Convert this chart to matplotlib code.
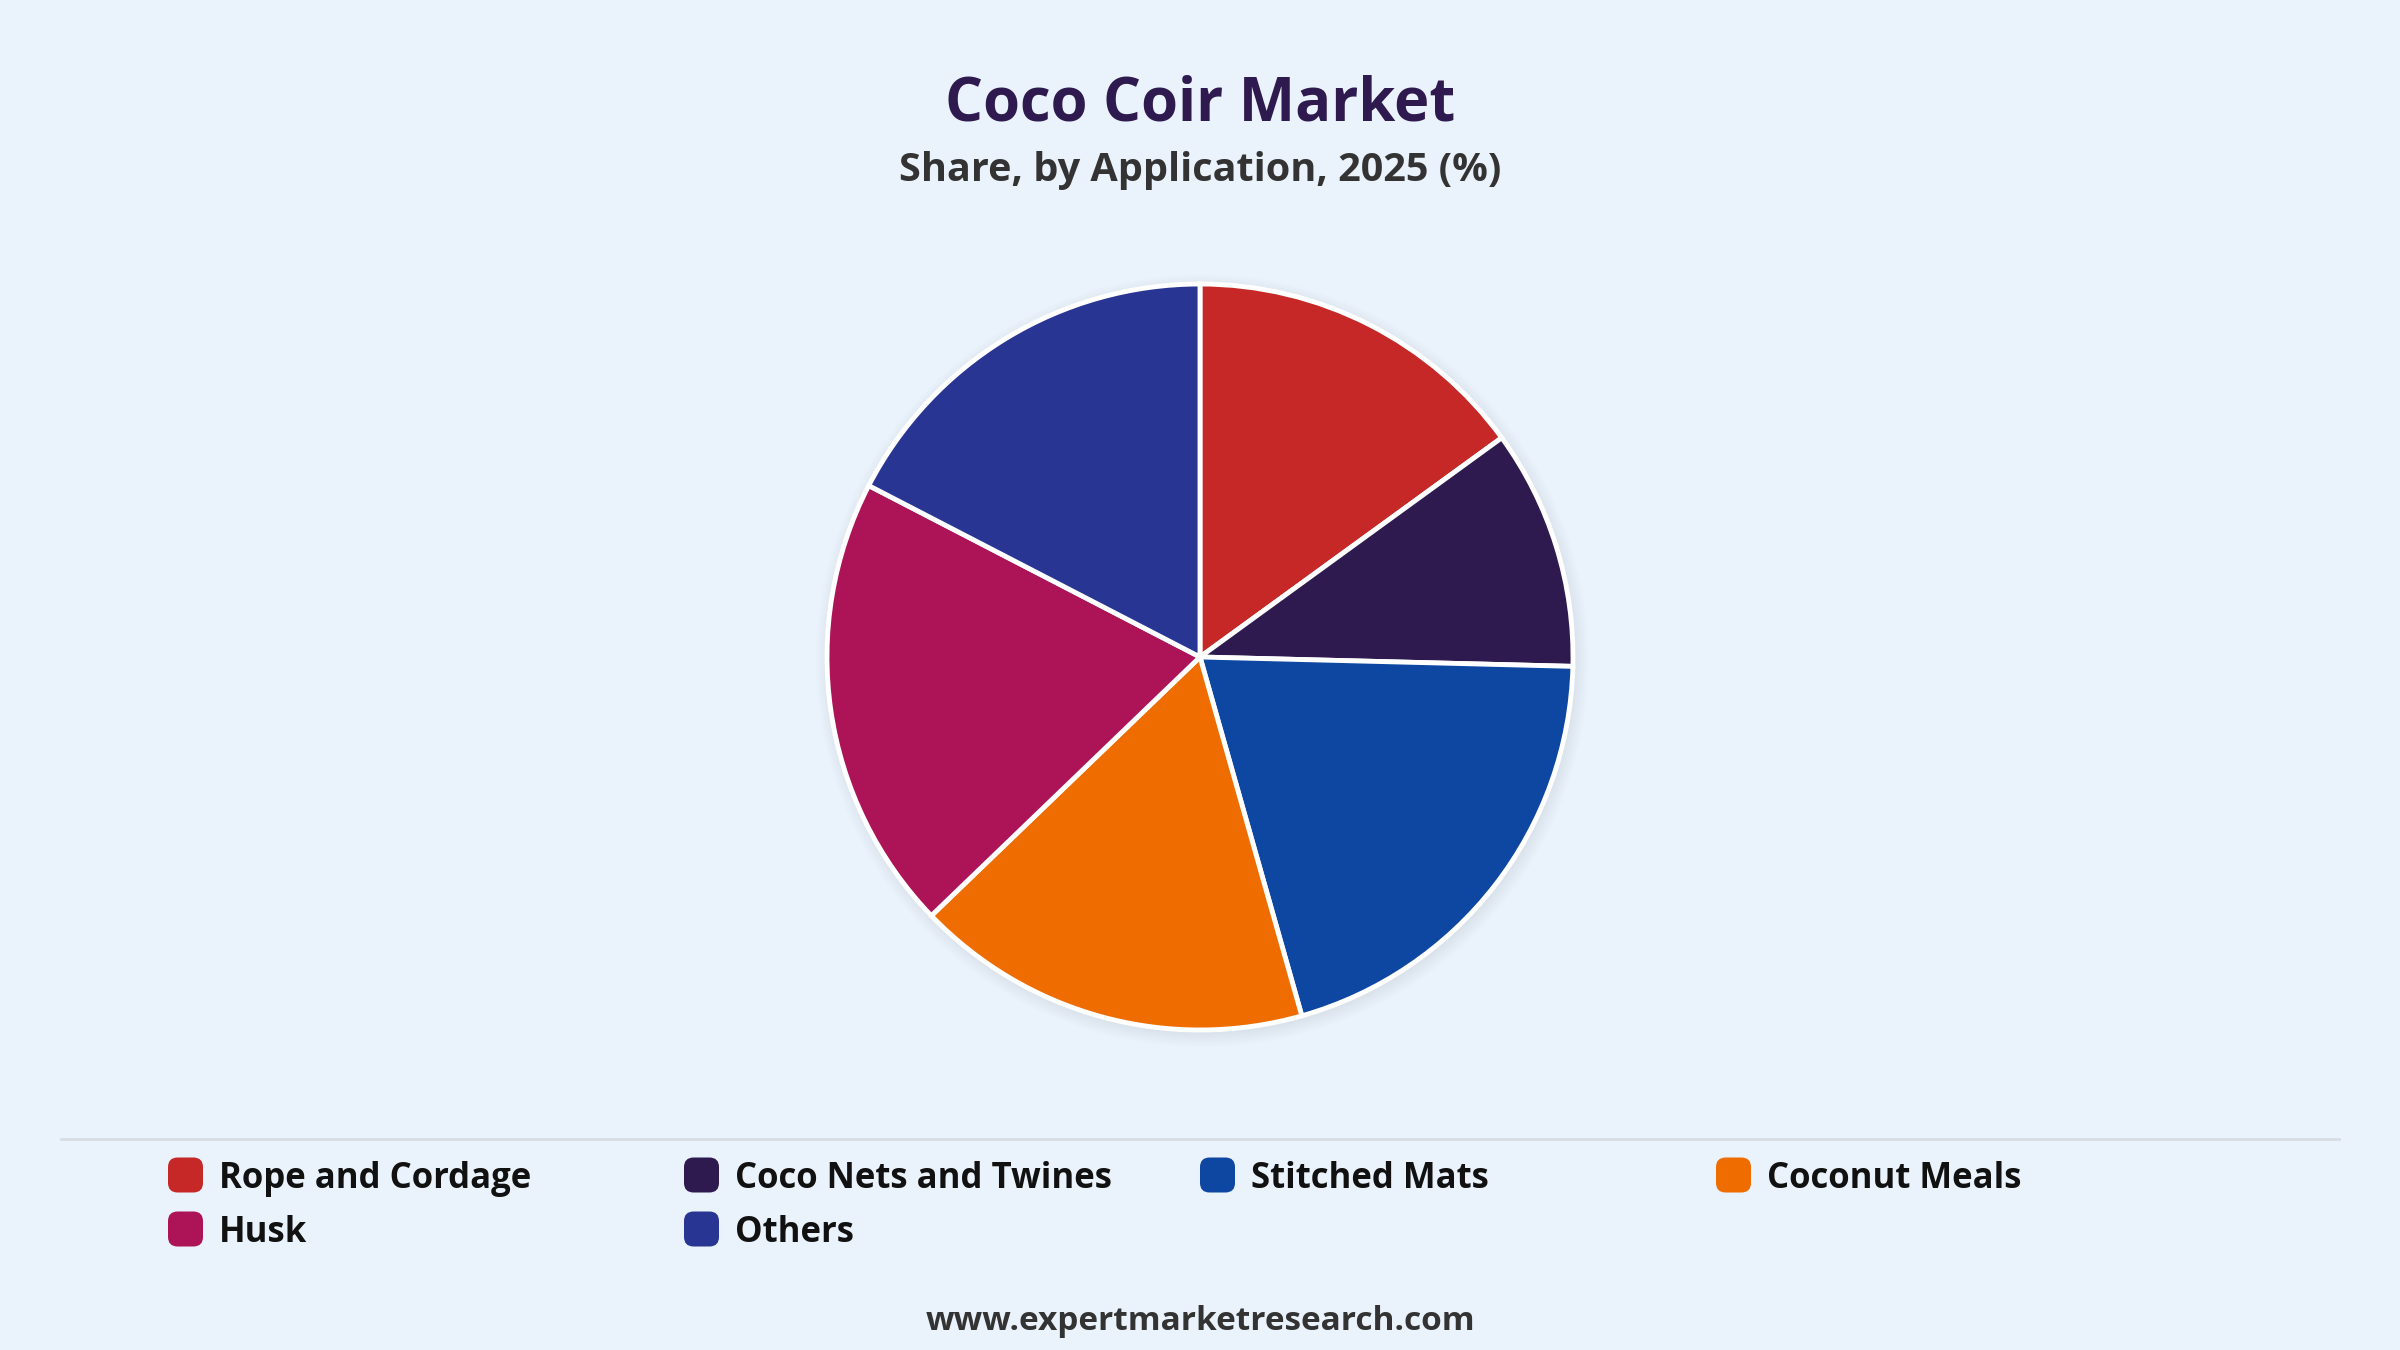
import matplotlib.pyplot as plt
from matplotlib.patches import Circle, FancyBboxPatch
from matplotlib.lines import Line2D

categories = ['Rope and Cordage', 'Coco Nets and Twines', 'Stitched Mats',
              'Coconut Meals', 'Husk', 'Others']
shares = [15.0, 10.4, 20.2, 17.2, 19.8, 17.4]
colors = ['#C62828', '#2E1A4F', '#0D47A1', '#EF6C00', '#AD1457', '#283593']

title = 'Coco Coir Market'
subtitle = 'Share, by Application, 2025 (%)'
footer = 'www.expertmarketresearch.com'

bg = '#EAF2FB'
plt.rcParams['font.family'] = ['Open Sans', 'DejaVu Sans']

W, H = 2400, 1350
fig = plt.figure(figsize=(24, 13.5), dpi=100, facecolor=bg)

# pie axes, square in pixels; radius 1 -> 373 px
cx, cy, r_px = 1200, 657, 373
lim = 1.15
half = r_px * lim
ax = fig.add_axes([(cx - half) / W, (H - cy - half) / H, 2 * half / W, 2 * half / H])
ax.axis('off')

# soft shadow
for i in range(8):
    ax.add_patch(Circle((0.006, -0.01), 1.0 + 0.005 * i, color='#8a96aa',
                        alpha=0.02, lw=0, zorder=0))

ax.pie(shares, colors=colors, startangle=90, counterclock=False, radius=1.0,
       wedgeprops=dict(edgecolor='white', linewidth=3.5))
ax.set_xlim(-lim, lim)
ax.set_ylim(-lim, lim)
ax.set_aspect('equal')

fig.text(0.5, 1 - 105 / H, title, ha='center', va='center', fontsize=43,
         fontweight='bold', color='#2E1A4F')
fig.text(0.5, 1 - 170 / H, subtitle, ha='center', va='center', fontsize=28.5,
         fontweight='bold', color='#333333')

# separator
fig.add_artist(Line2D([61 / W, 2339 / W], [1 - 1139 / H, 1 - 1139 / H],
                      color='#d8dde4', lw=2))

# legend
col_x = [168, 684, 1200, 1716]
row_y = [1175, 1229]
sq = 35
for i, (name, c) in enumerate(zip(categories, colors)):
    x = col_x[i % 4]
    y = row_y[i // 4]
    fig.add_artist(FancyBboxPatch((x / W, (H - y - sq / 2) / H), sq / W, sq / H,
                                  boxstyle='round,pad=0,rounding_size=0.004',
                                  transform=fig.transFigure, facecolor=c,
                                  edgecolor='none', mutation_aspect=W / H))
    fig.text((x + 51) / W, 1 - (y + 4) / H, name, ha='left', va='center',
             fontsize=25, fontweight='bold', color='#111111')

fig.text(0.5, 1 - 1321 / H, footer, ha='center', va='center', fontsize=24,
         fontweight='bold', color='#333333')

fig.savefig('out.png', dpi=100, facecolor=bg)
